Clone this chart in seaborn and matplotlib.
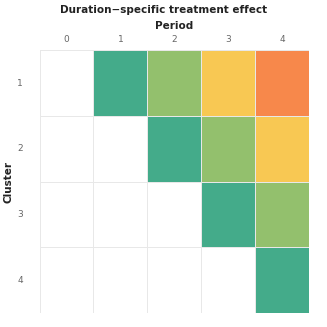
import seaborn as sns
import pandas as pd
import numpy as np
import matplotlib.pyplot as plt
from matplotlib.colors import ListedColormap

periods = [0, 1, 2, 3, 4]
clusters = [1, 2, 3, 4]
# duration since treatment start (0 = not yet treated)
cluster_1 = [0, 1, 2, 3, 4]
cluster_2 = [0, 0, 1, 2, 3]
cluster_3 = [0, 0, 0, 1, 2]
cluster_4 = [0, 0, 0, 0, 1]
colors = ["#ffffff", "#44ab8a", "#93c06d", "#f8c853", "#f7884b"]

df = pd.DataFrame([cluster_1, cluster_2, cluster_3, cluster_4],
                  index=clusters, columns=periods)

fig = plt.figure(figsize=(3.27, 3.27), dpi=100)
ax = fig.add_axes([0.1208, 0.0428, 0.8242, 0.8028])
sns.heatmap(df, cmap=ListedColormap(colors), vmin=-0.5, vmax=4.5, cbar=False,
            linewidths=0.6, linecolor="#e8e8e8", ax=ax)

ax.xaxis.tick_top()
ax.xaxis.set_label_position("top")
ax.tick_params(length=0, labelsize=6.5, labelcolor="#666666")
ax.tick_params(axis="x", pad=5)
ax.tick_params(axis="y", pad=12)
ax.set_yticklabels(clusters, rotation=0)
ax.set_xlabel("Period", fontsize=7.5, fontweight="bold", color="#222222", labelpad=4)
ax.set_ylabel("Cluster", fontsize=7.5, fontweight="bold", color="#222222")
ax.yaxis.set_label_coords(-0.097, 0.5)
fig.suptitle("Duration\u2212specific treatment effect", fontsize=7.5,
             fontweight="bold", color="#222222", y=0.985)

plt.savefig("out.png", dpi=100)
plt.close()
